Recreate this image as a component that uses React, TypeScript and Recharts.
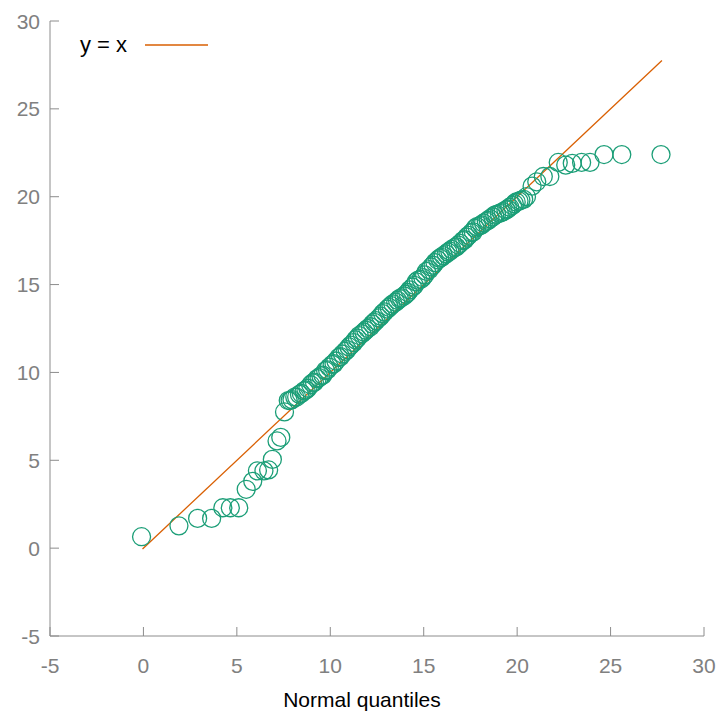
import { ScatterChart, Scatter, XAxis, YAxis, ReferenceLine, Legend, Label } from "recharts"

// normal quantiles (x) and sorted sample values (y)
const lowQuantiles = [-0.1, 1.9, 2.9, 3.65, 4.25, 4.65, 5.1, 5.5, 5.85, 6.1, 6.45, 6.7, 6.9, 7.15, 7.35, 7.55]
const lowSamples = [0.65, 1.27, 1.69, 1.69, 2.3, 2.3, 2.3, 3.35, 3.8, 4.4, 4.4, 4.45, 5.05, 6.1, 6.3, 7.75]

const midQuantiles = [
  7.75, 7.85, 7.95, 8.1, 8.2, 8.35, 8.45, 8.6, 8.7, 8.8,
  8.95, 9.05, 9.15, 9.3, 9.4, 9.5, 9.6, 9.75, 9.85, 9.95,
  10.1, 10.2, 10.3, 10.45, 10.55, 10.65, 10.8, 10.9, 11.0, 11.1,
  11.25, 11.35, 11.45, 11.55, 11.7, 11.8, 11.9, 12.0, 12.15, 12.25,
  12.35, 12.45, 12.6, 12.7, 12.8, 12.9, 13.05, 13.15, 13.25, 13.35,
  13.5, 13.6, 13.7, 13.8, 13.95, 14.05, 14.15, 14.25, 14.4, 14.5,
  14.6, 14.7, 14.85, 14.95, 15.05, 15.15, 15.3, 15.4, 15.5, 15.6,
  15.75, 15.85, 15.95, 16.05, 16.2, 16.3, 16.4, 16.5, 16.65, 16.75,
  16.85, 16.95, 17.1, 17.2, 17.3, 17.4, 17.55, 17.65, 17.75, 17.85,
  18.0, 18.1, 18.2, 18.35, 18.45, 18.55, 18.7, 18.8, 18.9, 19.05,
  19.15, 19.25, 19.4, 19.5, 19.6, 19.75, 19.85, 19.95, 20.1, 20.2,
  20.35, 20.5,
]
const midSamples = [
  8.4, 8.4, 8.45, 8.6, 8.6, 8.75, 8.8, 8.95, 9.0, 9.1,
  9.3, 9.4, 9.45, 9.65, 9.7, 9.8, 9.85, 10.1, 10.15, 10.3,
  10.45, 10.5, 10.65, 10.85, 10.9, 11.05, 11.2, 11.3, 11.45, 11.55,
  11.7, 11.85, 11.95, 12.1, 12.2, 12.3, 12.4, 12.5, 12.6, 12.75,
  12.85, 12.95, 13.1, 13.2, 13.35, 13.45, 13.6, 13.7, 13.8, 13.9,
  14.0, 14.1, 14.2, 14.25, 14.35, 14.45, 14.55, 14.7, 14.85, 14.95,
  15.15, 15.25, 15.3, 15.4, 15.55, 15.75, 15.85, 16.0, 16.1, 16.25,
  16.4, 16.5, 16.55, 16.65, 16.75, 16.85, 16.9, 17.0, 17.1, 17.15,
  17.25, 17.35, 17.5, 17.55, 17.7, 17.8, 17.95, 18.0, 18.2, 18.3,
  18.35, 18.4, 18.5, 18.6, 18.65, 18.75, 18.85, 18.95, 19.0, 19.05,
  19.1, 19.15, 19.25, 19.3, 19.4, 19.5, 19.6, 19.7, 19.75, 19.8,
  19.85, 20.0,
]

const highQuantiles = [20.8, 21.05, 21.4, 21.75, 22.2, 22.6, 22.95, 23.45, 23.9, 24.65, 25.6, 27.7]
const highSamples = [20.6, 20.85, 21.15, 21.15, 21.95, 21.8, 21.9, 21.95, 21.95, 22.4, 22.4, 22.4]

const axisTicks = [-5, 0, 5, 10, 15, 20, 25, 30]

const quantiles = [...lowQuantiles, ...midQuantiles, ...highQuantiles]
const samples = [...lowSamples, ...midSamples, ...highSamples]
const points = quantiles.map((q, i) => ({ x: q, y: samples[i] }))
const lineLo = Math.min(...quantiles) + 0.05
const lineHi = Math.max(...quantiles) + 0.05

const GREEN = "#1b9e77"
const ORANGE = "#d95f02"
const AXIS = "#8c8c8c"
const TICK_TEXT = "#808080"
const FONT = "'Liberation Sans', Arial, sans-serif"

const XTick = (props: any) => {
  const { x, y, payload } = props
  return (
    <g>
      <line x1={x} x2={x} y1={y} y2={y - 9} stroke={AXIS} />
      <text x={x} y={y + 37} textAnchor="middle" fill={TICK_TEXT} fontSize={21} fontFamily={FONT}>
        {payload.value}
      </text>
    </g>
  )
}

const YTick = (props: any) => {
  const { x, y, payload } = props
  return (
    <g>
      <line x1={x} x2={x + 9} y1={y} y2={y} stroke={AXIS} />
      <text x={x - 10} y={y + 7.5} textAnchor="end" fill={TICK_TEXT} fontSize={21} fontFamily={FONT}>
        {payload.value}
      </text>
    </g>
  )
}

const Circle = (props: any) => {
  const { cx, cy } = props
  return <circle cx={cx} cy={cy} r={9} fill="none" stroke={GREEN} strokeWidth={1.3} />
}

export default function App() {
  return (
    <div style={{ position: "absolute", left: 0, top: 0, width: 725, height: 717, background: "#fff" }}>
      <ScatterChart width={725} height={717} margin={{ top: 21, right: 21, bottom: 0, left: 0 }}>
        <XAxis
          type="number"
          dataKey="x"
          domain={[-5, 30]}
          ticks={axisTicks}
          allowDataOverflow
          height={81}
          stroke={AXIS}
          tickLine={false}
          tickSize={0}
          tickMargin={0}
          tick={<XTick />}
        >
          <Label
            value="Normal quantiles"
            position="insideBottom"
            offset={10}
            dx={-15}
            fill="#000"
            fontSize={21}
            fontFamily={FONT}
          />
        </XAxis>
        <YAxis
          type="number"
          dataKey="y"
          domain={[-5, 30]}
          ticks={axisTicks}
          allowDataOverflow
          width={50}
          stroke={AXIS}
          tickLine={false}
          tickSize={0}
          tickMargin={0}
          tick={<YTick />}
        />
        <Scatter data={points} shape={<Circle />} isAnimationActive={false} />
        <ReferenceLine
          segment={[
            { x: lineLo, y: lineLo },
            { x: lineHi, y: lineHi },
          ]}
          stroke={ORANGE}
          strokeWidth={1.3}
          ifOverflow="visible"
        />
        <Legend
          verticalAlign="middle"
          align="center"
          wrapperStyle={{ left: 80, top: 32, width: 160 }}
          content={() => (
            <div style={{ display: "flex", alignItems: "center", fontFamily: FONT, fontSize: 22 }}>
              <span style={{ color: "#000" }}>y = x</span>
              <svg width={72} height={10} style={{ marginLeft: 10 }}>
                <line x1={8} x2={71} y1={5} y2={5} stroke={ORANGE} strokeWidth={1.5} />
              </svg>
            </div>
          )}
        />
      </ScatterChart>
    </div>
  )
}
